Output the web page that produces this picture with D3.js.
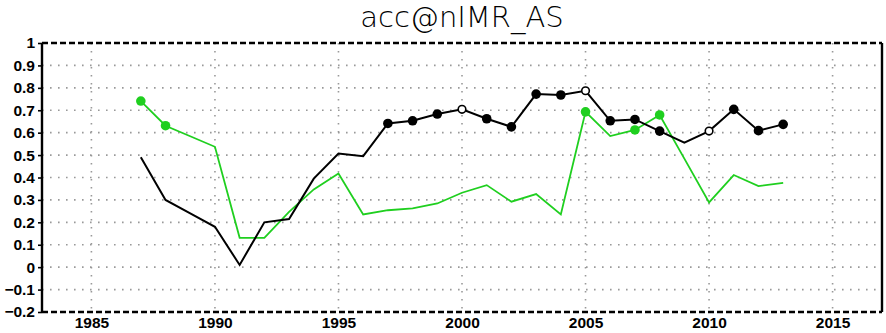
<!DOCTYPE html>
<html>
<head>
<meta charset="utf-8">
<script src="https://cdn.jsdelivr.net/npm/d3@7"></script>
<style>
  body { margin: 0; background: #fff; }
  svg { display: block; }
</style>
</head>
<body>
<svg id="chart"></svg>
<script>
const years = d3.range(1987, 2014);
const blackValues = [0.49, 0.30, 0.24, 0.18, 0.01, 0.20, 0.215, 0.395, 0.507, 0.495, 0.641, 0.653, 0.683, 0.704, 0.662, 0.626, 0.772, 0.768, 0.787, 0.653, 0.659, 0.607, 0.555, 0.607, 0.704, 0.609, 0.637];
const greenValues = [0.741, 0.631, 0.584, 0.537, 0.131, 0.131, 0.247, 0.347, 0.418, 0.235, 0.254, 0.262, 0.284, 0.332, 0.366, 0.292, 0.326, 0.235, 0.693, 0.585, 0.612, 0.679, 0.484, 0.289, 0.411, 0.362, 0.376];
// which years carry a marker: 1 = filled, 2 = open
const blackMarks = [0,0,0,0,0,0,0,0,0,0,1,1,1,2,1,1,1,1,2,1,1,1,0,2,1,1,1];
const greenMarks = [1,1,0,0,0,0,0,0,0,0,0,0,0,0,0,0,0,0,1,0,1,1,0,0,0,0,0];
const xTicks = [1985, 1990, 1995, 2000, 2005, 2010, 2015];
const yTicks = [-0.2, -0.1, 0, 0.1, 0.2, 0.3, 0.4, 0.5, 0.6, 0.7, 0.8, 0.9, 1];

const width = 886, height = 333;
const margin = { top: 43, right: 4, bottom: 21, left: 42 };
const svg = d3.select("#chart").attr("width", width).attr("height", height);

const x = d3.scaleLinear().domain([1983, 2017]).range([margin.left, width - margin.right]);
const y = d3.scaleLinear().domain([-0.2, 1]).range([height - margin.bottom, margin.top]);

// grid
const grid = svg.append("g").attr("stroke", "#999").attr("stroke-width", 1.6).attr("stroke-dasharray", "1.6,6.4");
grid.selectAll(".gx").data(xTicks).join("line")
  .attr("x1", d => x(d)).attr("x2", d => x(d))
  .attr("y1", y(1)).attr("y2", y(-0.2));
grid.selectAll(".gy").data(yTicks.slice(1, -1)).join("line")
  .attr("x1", x(1983)).attr("x2", x(2017))
  .attr("y1", d => y(d)).attr("y2", d => y(d));

// lines
const line = d3.line().x((d, i) => x(years[i])).y(d => y(d));
svg.append("path").datum(greenValues).attr("fill", "none").attr("stroke", "#1fcf1f").attr("stroke-width", 1.8).attr("d", line);
svg.append("path").datum(blackValues).attr("fill", "none").attr("stroke", "#000").attr("stroke-width", 2).attr("d", line);

function drawMarks(values, marks, color) {
  const pts = values.map((v, i) => ({ year: years[i], v, m: marks[i] })).filter(d => d.m > 0);
  svg.append("g").selectAll("circle").data(pts).join("circle")
    .attr("cx", d => x(d.year)).attr("cy", d => y(d.v))
    .attr("r", d => d.m === 2 ? 3.8 : 4.8)
    .attr("fill", d => d.m === 2 ? "#fff" : color)
    .attr("stroke", color).attr("stroke-width", d => d.m === 2 ? 1.6 : 0);
}
drawMarks(greenValues, greenMarks, "#1fcf1f");
drawMarks(blackValues, blackMarks, "#000");

// frame
const x0 = x(1983), x1 = x(2017), yt = y(1), yb = y(-0.2);
svg.append("line").attr("x1", x0).attr("x2", x1).attr("y1", yt).attr("y2", yt)
  .attr("stroke", "#000").attr("stroke-width", 2.4).attr("stroke-dasharray", "6,3");
svg.append("line").attr("x1", x0).attr("x2", x1).attr("y1", yb).attr("y2", yb)
  .attr("stroke", "#000").attr("stroke-width", 2.4).attr("stroke-dasharray", "6,3");
svg.append("line").attr("x1", x0).attr("x2", x0).attr("y1", yt).attr("y2", yb)
  .attr("stroke", "#000").attr("stroke-width", 2.4);
svg.append("line").attr("x1", x1).attr("x2", x1).attr("y1", yt).attr("y2", yb)
  .attr("stroke", "#000").attr("stroke-width", 2.4);

// axes
const yAxis = svg.append("g").attr("transform", `translate(${x0},0)`)
  .call(d3.axisLeft(y).tickValues(yTicks).tickSize(4).tickPadding(3)
    .tickFormat(d => d3.format("")(d).replace("-", "\u2212")));
yAxis.select(".domain").remove();
yAxis.selectAll("line").attr("stroke-width", 1.6);
yAxis.selectAll("text").attr("font-family", "Liberation Sans, Arial, sans-serif")
  .attr("font-size", 15.5).attr("font-weight", "bold").attr("fill", "#000");

const xAxis = svg.append("g").attr("transform", `translate(0,${yb})`)
  .call(d3.axisBottom(x).tickValues(xTicks).tickSize(0).tickPadding(5).tickFormat(d3.format("d")));
xAxis.select(".domain").remove();
xAxis.selectAll("text").attr("font-family", "Liberation Sans, Arial, sans-serif")
  .attr("font-size", 15.5).attr("font-weight", "bold").attr("fill", "#000");

// title
svg.append("text").attr("x", (x0 + x1) / 2).attr("y", 27).attr("text-anchor", "middle")
  .attr("font-family", "DejaVu Sans, sans-serif").attr("font-size", 29).attr("font-weight", 300)
  .text("acc@nIMR_AS");
</script>
</body>
</html>
